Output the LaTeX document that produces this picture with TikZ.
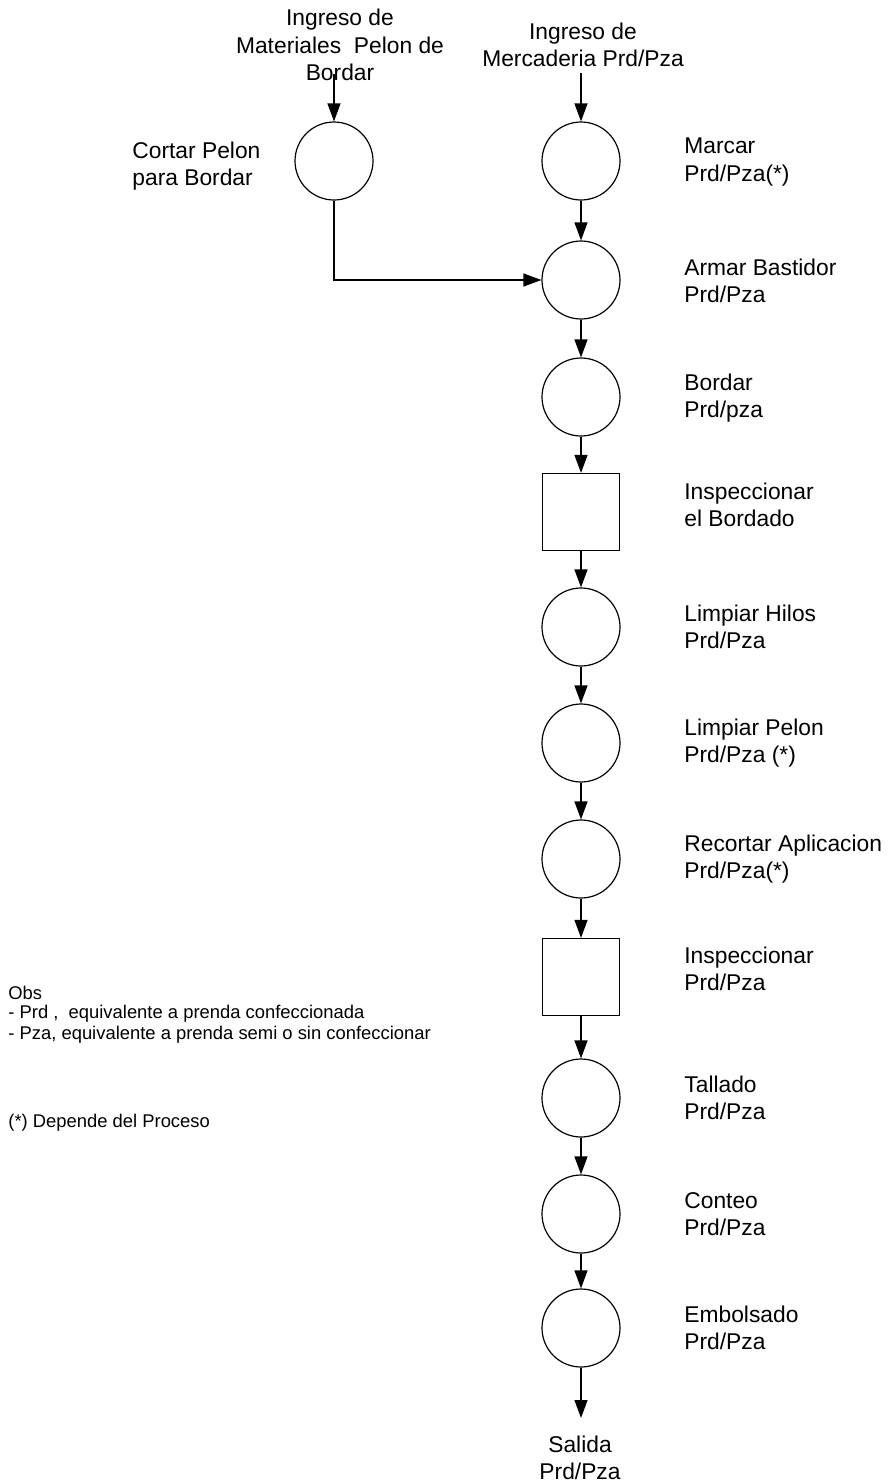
\documentclass[tikz,border=0pt]{standalone}
\usepackage{fontspec}
\setmainfont{Liberation Sans}
\usetikzlibrary{arrows.meta}
\begin{document}
\begin{tikzpicture}[x=0.5pt,y=-0.5pt,
  op/.style={circle,draw,line width=0.6pt,minimum size=39pt,inner sep=0pt},
  insp/.style={rectangle,draw,line width=0.6pt,minimum size=38.5pt,inner sep=0pt},
  lbl/.style={anchor=west,align=left,inner sep=0pt,font=\fontsize{11.4}{13.8}\selectfont},
  ctr/.style={align=center,inner sep=0pt,font=\fontsize{11.4}{13.8}\selectfont},
  note/.style={anchor=west,align=left,inner sep=0pt,font=\fontsize{9.2}{10.5}\selectfont},
  flow/.style={line width=0.6pt,-{Triangle[length=9pt,width=6.5pt]}}]
\useasboundingbox (0,0) rectangle (888,1483);

% main process column
\node[op]   (m1) at (581,161)  {};
\node[op]   (m2) at (581,280)  {};
\node[op]   (m3) at (581,397)  {};
\node[insp] (q1) at (581,512)  {};
\node[op]   (m4) at (581,627)  {};
\node[op]   (m5) at (581,743)  {};
\node[op]   (m6) at (581,859)  {};
\node[insp] (q2) at (581,977)  {};
\node[op]   (m7) at (581,1098) {};
\node[op]   (m8) at (581,1214) {};
\node[op]   (m9) at (581,1328) {};

% side branch
\node[op]   (c)  at (334,161)  {};

% step labels
\node[lbl] (l1) at (684,162)  {Marcar\\Prd/Pza(*)};
\node[lbl] (l2) at (684,281)  {Armar Bastidor\\Prd/Pza};
\node[lbl] (l3) at (684,398)  {Bordar\\Prd/pza};
\node[lbl] (l4) at (684,505)  {Inspeccionar\\el Bordado};
\node[lbl] (l5) at (684,627)  {Limpiar Hilos\\Prd/Pza};
\node[lbl] (l6) at (684,743)  {Limpiar Pelon\\Prd/Pza (*)};
\node[lbl] (l7) at (684,859)  {Recortar Aplicacion\\Prd/Pza(*)};
\node[lbl] (l8) at (684,969)  {Inspeccionar\\Prd/Pza};
\node[lbl] (l9) at (684,1098) {Tallado\\Prd/Pza};
\node[lbl] (l10) at (684,1214) {Conteo\\Prd/Pza};
\node[lbl] (l11) at (684,1328) {Embolsado\\Prd/Pza};
\node[lbl] (lc) at (132,166)  {Cortar Pelon\\para Bordar};

% inputs and output
\node[ctr] (inM) at (583,45)   {Ingreso de\\Mercaderia Prd/Pza};
\node[ctr] (inP) at (340,45)   {Ingreso de\\Materiales\ \ Pelon de\\Bordar};
\node[ctr] (out) at (580,1458) {Salida\\Prd/Pza};
\coordinate (inMa) at (581,73);
\coordinate (inPa) at (334,74);
\coordinate (outa) at (581,1418);

% notes
\node[note] (n1) at (8,993)  {Obs};
\node[note] (n2) at (8,1014) {- Prd ,\ \ equivalente a prenda confeccionada};
\node[note] (n3) at (8,1035) {- Pza, equivalente a prenda semi o sin confeccionar};
\node[note] (n4) at (8,1123) {(*) Depende del Proceso};

% connectors
\draw[flow] (inMa) -- (m1);
\draw[flow] (inPa) -- (c);
\draw[flow] (c.south) |- (m2.west);
\draw[flow] (m1) -- (m2);
\draw[flow] (m2) -- (m3);
\draw[flow] (m3) -- (q1);
\draw[flow] (q1) -- (m4);
\draw[flow] (m4) -- (m5);
\draw[flow] (m5) -- (m6);
\draw[flow] (m6) -- (q2);
\draw[flow] (q2) -- (m7);
\draw[flow] (m7) -- (m8);
\draw[flow] (m8) -- (m9);
\draw[flow] (m9) -- (outa);
\end{tikzpicture}
\end{document}
